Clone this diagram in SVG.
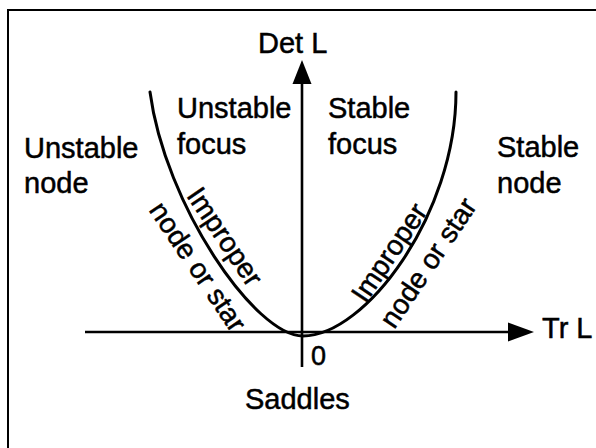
<svg xmlns="http://www.w3.org/2000/svg" width="596" height="448" viewBox="0 0 596 448">
<style>
.t{font-family:"Liberation Sans",Arial,Helvetica,sans-serif;font-size:29px;fill:#000;stroke:#000;stroke-width:0.5}
.r{font-size:28px}
.ax{stroke:#000;stroke-width:2.6;fill:none}
.cv{stroke:#000;stroke-width:3;fill:none;stroke-linecap:round}
</style>
<rect width="596" height="448" fill="#fff"/>
<g id="frame" stroke="#000" stroke-width="2" fill="none">
<path d="M8,448 V10 H596"/>
</g>
<g id="connectors">
<line class="ax" x1="302" y1="367" x2="302" y2="80"/>
<polygon points="302,60 292.5,84 311.5,84" fill="#000"/>
<line class="ax" x1="85" y1="332" x2="512" y2="332"/>
<polygon points="534,332 508,322.5 508,341.5" fill="#000"/>
<path class="cv" d="M150,92 C165,205 255,336 303,336 C365,336 456,215 456,92"/>
</g>
<g id="det-label"><text class="t" x="258" y="53">Det L</text></g>
<g id="tr-label"><text class="t" x="542" y="338">Tr L</text></g>
<g id="origin-label"><text class="t" x="311" y="365" style="font-size:27px">0</text></g>
<g id="unstable-node"><text class="t" x="24" y="158">Unstable</text><text class="t" x="24" y="193">node</text></g>
<g id="unstable-focus"><text class="t" x="177" y="118">Unstable</text><text class="t" x="177" y="154">focus</text></g>
<g id="stable-focus"><text class="t" x="328" y="118">Stable</text><text class="t" x="328" y="154">focus</text></g>
<g id="stable-node"><text class="t" x="497" y="157">Stable</text><text class="t" x="497" y="193">node</text></g>
<g id="saddles"><text class="t" x="245" y="409">Saddles</text></g>
<g id="improper-left">
<text class="t r" text-anchor="middle" transform="translate(217,242) rotate(56)">Improper</text>
<text class="t r" text-anchor="middle" transform="translate(190,272) rotate(56)">node or star</text>
</g>
<g id="improper-right">
<text class="t r" text-anchor="middle" transform="translate(397,258) rotate(-56)">Improper</text>
<text class="t r" text-anchor="middle" transform="translate(436,268) rotate(-56)">node or star</text>
</g>
</svg>
